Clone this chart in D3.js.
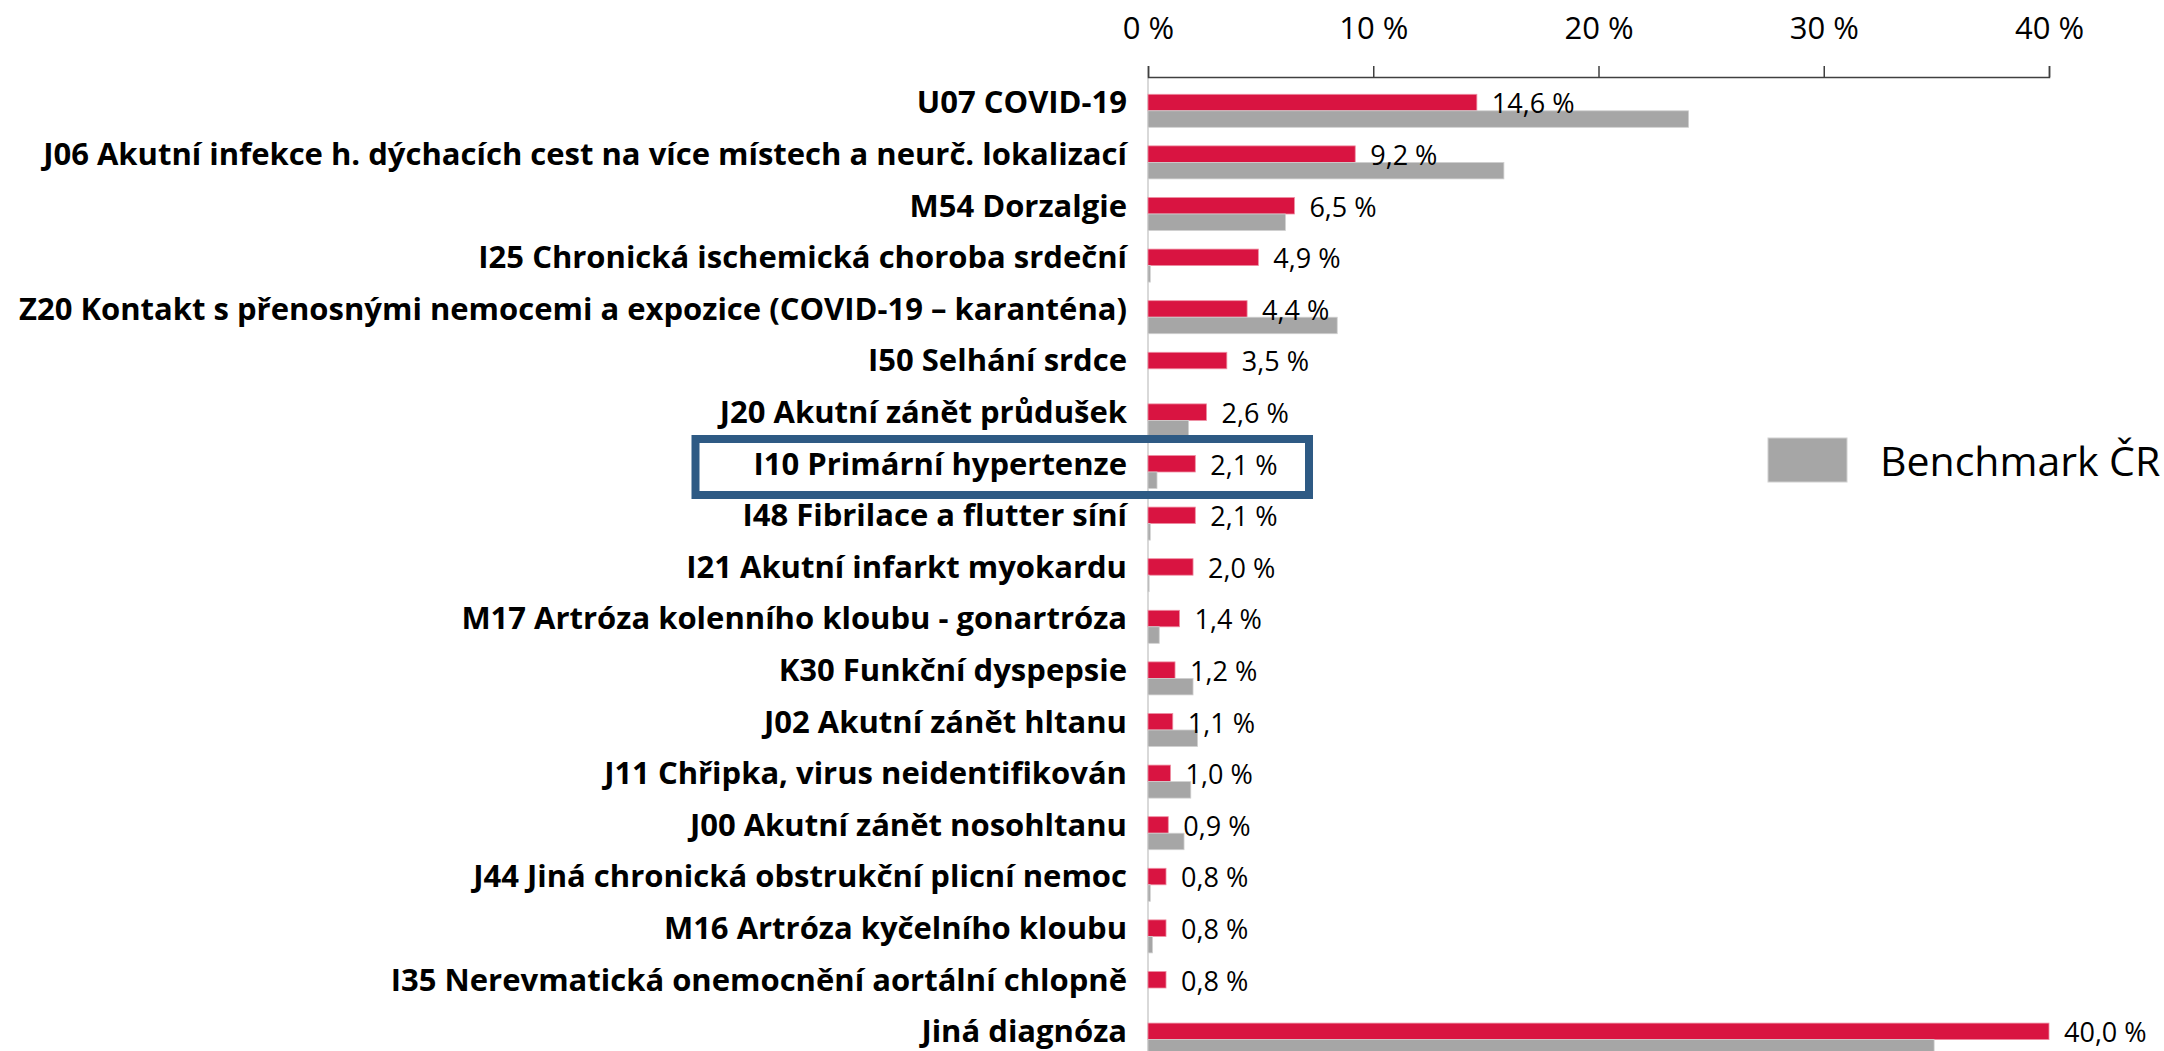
<!DOCTYPE html>
<html>
<head>
  <meta charset="UTF-8">
  <style>
    body { margin: 0; background: #fff; }
    svg { display: block; font-family: "Open Sans", sans-serif; }
  </style>
</head>
<body>
<div id="chart_div"></div>
<script src="https://cdnjs.cloudflare.com/ajax/libs/d3/7.8.5/d3.min.js"></script>
<script>

// Data
const categories = [
  "U07 COVID-19",
  "J06 Akutní infekce h. dýchacích cest na více místech a neurč. lokalizací",
  "M54 Dorzalgie",
  "I25 Chronická ischemická choroba srdeční",
  "Z20 Kontakt s přenosnými nemocemi a expozice (COVID-19 – karanténa)",
  "I50 Selhání srdce",
  "J20 Akutní zánět průdušek",
  "I10 Primární hypertenze",
  "I48 Fibrilace a flutter síní",
  "I21 Akutní infarkt myokardu",
  "M17 Artróza kolenního kloubu - gonartróza",
  "K30 Funkční dyspepsie",
  "J02 Akutní zánět hltanu",
  "J11 Chřipka, virus neidentifikován",
  "J00 Akutní zánět nosohltanu",
  "J44 Jiná chronická obstrukční plicní nemoc",
  "M16 Artróza kyčelního kloubu",
  "I35 Nerevmatická onemocnění aortální chlopně",
  "Jiná diagnóza"
];
const values    = [14.6, 9.2, 6.5, 4.9, 4.4, 3.5, 2.6, 2.1, 2.1, 2.0, 1.4, 1.2, 1.1, 1.0, 0.9, 0.8, 0.8, 0.8, 40.0];
const benchmark = [24.0, 15.8, 6.1, 0.1, 8.4, 0.0, 1.8, 0.4, 0.1, 0.05, 0.5, 2.0, 2.2, 1.9, 1.6, 0.1, 0.2, 0.0, 34.9];
const tickValues = [0, 10, 20, 30, 40];
const legendLabel = "Benchmark ČR";
const highlighted = "I10 Primární hypertenze";

const width = 2164, height = 1051;
const red = "#D91441", grey = "#A6A6A6";

let svg = d3.select("#chart_div")
    .append("svg")
    .attr("width", width)
    .attr("height", height);

let rows = categories.map((c, i) => ({ cat: c, value: values[i], bench: benchmark[i] }));

// scales
let x = d3.scaleLinear().domain([0, 40]).range([1148, 2049]);

let y = d3.scaleBand()
    .domain(categories)
    .range([85, 85 + 19 * 51.6])
    .paddingInner(0.36)
    .paddingOuter(0.18);

let ySub = d3.scaleBand()
    .domain(["value", "bench"])
    .range([0, y.bandwidth()]);

// light category axis line
svg.append("line")
    .attr("x1", x(0)).attr("x2", x(0))
    .attr("y1", 77).attr("y2", height)
    .attr("stroke", "#D9D9D9")
    .attr("stroke-width", 2);

// top value axis
let xAxis = d3.axisTop(x)
    .tickValues(tickValues)
    .tickSize(11)
    .tickPadding(27)
    .tickFormat(d => d + " %");

let gx = svg.append("g")
    .attr("transform", "translate(0,77)")
    .call(xAxis);
gx.select(".domain").attr("stroke", "#404040").attr("stroke-width", 1.5);
gx.selectAll(".tick line").attr("stroke", "#404040").attr("stroke-width", 1.5);
gx.selectAll(".tick text")
    .attr("font-family", "Open Sans")
    .attr("font-size", 31)
    .attr("fill", "#000");

// bars
let rowG = svg.append("g")
    .selectAll("g")
    .data(rows)
    .enter()
    .append("g")
    .attr("transform", d => "translate(0," + y(d.cat) + ")");

rowG.append("rect")
    .attr("x", x(0))
    .attr("y", ySub("value"))
    .attr("width", d => x(d.value) - x(0))
    .attr("height", ySub.bandwidth())
    .attr("fill", red)
    .attr("stroke", "#EE8FA3")
    .attr("stroke-width", 0.8);

rowG.append("rect")
    .attr("x", x(0))
    .attr("y", ySub("bench"))
    .attr("width", d => x(d.bench) - x(0))
    .attr("height", ySub.bandwidth())
    .attr("fill", grey)
    .attr("stroke", "#D0D0D0")
    .attr("stroke-width", d => d.bench > 0 ? 0.8 : 0);

// value labels
rowG.append("text")
    .attr("x", d => x(d.value) + 15)
    .attr("y", ySub("value") + ySub.bandwidth() + 2.5)
    .attr("font-size", 27)
    .attr("fill", "#000")
    .text(d => d3.format(".1f")(d.value).replace(".", ",") + " %");

// category labels
rowG.append("text")
    .attr("x", 1127)
    .attr("y", y.bandwidth() / 2 + 2.5)
    .attr("text-anchor", "end")
    .attr("font-size", 31)
    .attr("font-weight", "bold")
    .attr("fill", "#000")
    .text(d => d.cat);

// highlight box
let hy = y(highlighted) + y.bandwidth() / 2;
svg.append("rect")
    .attr("x", 695.5)
    .attr("y", hy - 33)
    .attr("width", 1309 - 695.5)
    .attr("height", 56)
    .attr("fill", "none")
    .attr("stroke", "#2E5A84")
    .attr("stroke-width", 8);

// legend
let legend = svg.append("g").attr("transform", "translate(1768,438)");
legend.append("rect")
    .attr("width", 79)
    .attr("height", 44)
    .attr("fill", grey)
    .attr("stroke", "#D0D0D0")
    .attr("stroke-width", 1);
legend.append("text")
    .attr("x", 112)
    .attr("y", 38)
    .attr("font-size", 41)
    .attr("fill", "#000")
    .text(legendLabel);

</script>
</body>
</html>
